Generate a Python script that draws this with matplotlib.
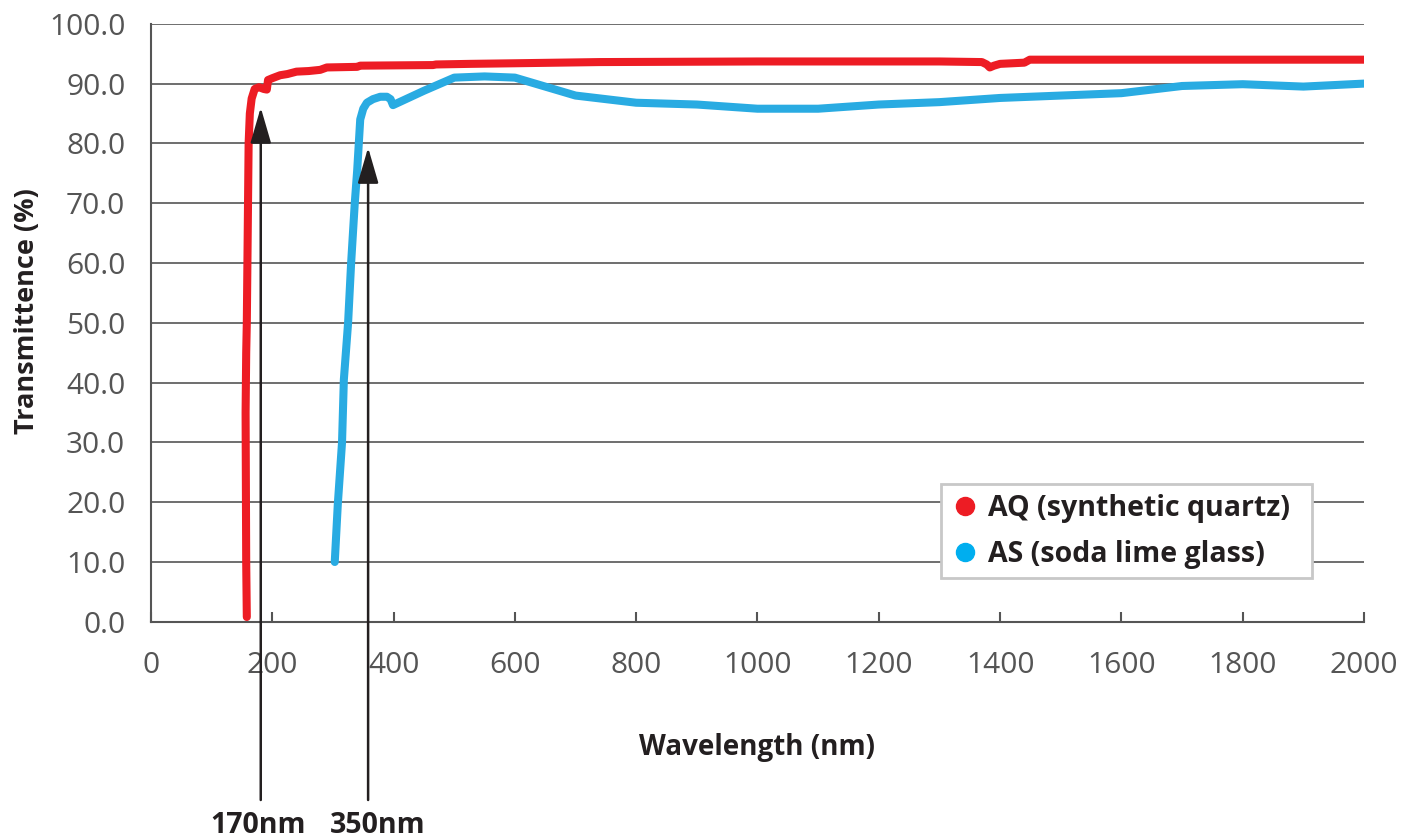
import matplotlib
matplotlib.use('Agg')
import matplotlib.pyplot as plt
from matplotlib.lines import Line2D

plt.rcParams['font.family'] = ['Open Sans', 'DejaVu Sans']

# AQ (synthetic quartz) transmittance
aq_nm = [158, 157, 156, 157, 158, 159, 160, 161, 163, 166, 171, 178, 186, 191, 193,
         200, 213, 225, 240, 260, 279, 290, 340, 345, 465, 470, 526, 600, 740, 1000,
         1200, 1300, 1370, 1378, 1383, 1390, 1400, 1440, 1449, 1600, 2000]
aq_t = [0.8, 10, 35, 45, 50, 60, 70, 80, 85, 87.5, 89.1, 89.4, 89.1, 89.0, 90.6,
        90.9, 91.4, 91.6, 92.0, 92.1, 92.3, 92.7, 92.8, 93.0, 93.1, 93.2, 93.3, 93.4, 93.6, 93.7,
        93.7, 93.7, 93.6, 93.2, 92.7, 93.0, 93.3, 93.5, 94.0, 94.0, 94.0]

# AS (soda lime glass) transmittance
as_nm = [303, 308, 315, 318, 325, 330, 336, 340, 345, 350, 356, 366, 378, 389, 395, 399,
         450, 500, 550, 600, 700, 800, 900, 1000, 1100, 1200, 1300, 1400, 1500, 1600,
         1700, 1800, 1900, 2000]
as_t = [10, 19.6, 30, 40.5, 50, 60, 70, 75.5, 84, 85.8, 86.8, 87.4, 87.8, 87.8, 87.4, 86.4,
        88.8, 91.0, 91.2, 91.0, 88.0, 86.8, 86.5, 85.8, 85.8, 86.5, 86.9, 87.6, 88.0, 88.4,
        89.6, 89.9, 89.5, 90.0]

# cutoff markers
cut_x = [181, 358]          # arrow position
cut_tip = [86.0, 79.3]      # arrow tip
cut_label_x = [176, 373]    # label centre
cut_labels = ['170nm', '350nm']

red = '#ed1c24'
blue = '#29abe2'
grid_c = '#555555'
ink = '#231f20'

fig = plt.figure(figsize=(14.11, 8.38), dpi=100)
ax = fig.add_axes([0.107, 0.258, 0.8597, 0.7136])

ax.set_xlim(0, 2000)
ax.set_ylim(0, 100)
ax.set_xticks(range(0, 2001, 200))
ax.set_yticks(range(0, 101, 10))
ax.set_yticklabels([f'{v:.1f}' for v in range(0, 101, 10)])

ax.grid(axis='y', color=grid_c, linewidth=1.2)
ax.set_axisbelow(True)
for s in ['top', 'right']:
    ax.spines[s].set_visible(False)
for s in ['left', 'bottom']:
    ax.spines[s].set_color(grid_c)
    ax.spines[s].set_linewidth(1.5)

ax.tick_params(axis='x', direction='in', length=7, width=1.5, color=grid_c,
               labelsize=21.5, labelcolor='#555555', pad=21)
ax.tick_params(axis='y', length=0, labelsize=21.5, labelcolor='#555555', pad=18.5)

ax.plot(aq_nm, aq_t, color=red, lw=5.8, solid_capstyle='round', solid_joinstyle='round', zorder=3)
ax.plot(as_nm, as_t, color=blue, lw=5.8, solid_capstyle='round', solid_joinstyle='round', zorder=3)

for x, tip, lx, lab in zip(cut_x, cut_tip, cut_label_x, cut_labels):
    ax.annotate('', xy=(x, tip), xytext=(x, -29.8), annotation_clip=False,
                arrowprops=dict(arrowstyle='-|>,head_length=1.1,head_width=0.32',
                                color=ink, lw=1.8, shrinkA=0, shrinkB=0,
                                mutation_scale=20), zorder=4)
    ax.text(lx, -34.0, lab, ha='center', va='center', fontsize=20.5,
            fontweight='bold', color=ink, clip_on=False)

ax.set_xlabel('Wavelength (nm)', fontsize=20, fontweight='bold', color=ink, labelpad=38)
ax.set_ylabel('Transmittence (%)', fontsize=19.5, fontweight='bold', color=ink)
ax.yaxis.set_label_coords(-0.0915, 0.52)

handles = [Line2D([], [], ls='none', marker='o', ms=13, color=red),
           Line2D([], [], ls='none', marker='o', ms=13, color='#00aeef')]
leg = ax.legend(handles, ['AQ (synthetic quartz)', 'AS (soda lime glass)'],
                loc='lower left', bbox_to_anchor=(0.651, 0.0736, 0.306, 0.158),
                mode='expand', borderaxespad=0, fancybox=False, framealpha=1,
                edgecolor='#c8c8c8', handletextpad=0.25, handlelength=1.1,
                borderpad=0.32, labelspacing=0.6, prop={'size': 20.5, 'weight': 'bold'})
leg.get_frame().set_linewidth(2)
for t in leg.get_texts():
    t.set_color(ink)

fig.savefig('out.png', dpi=100)
